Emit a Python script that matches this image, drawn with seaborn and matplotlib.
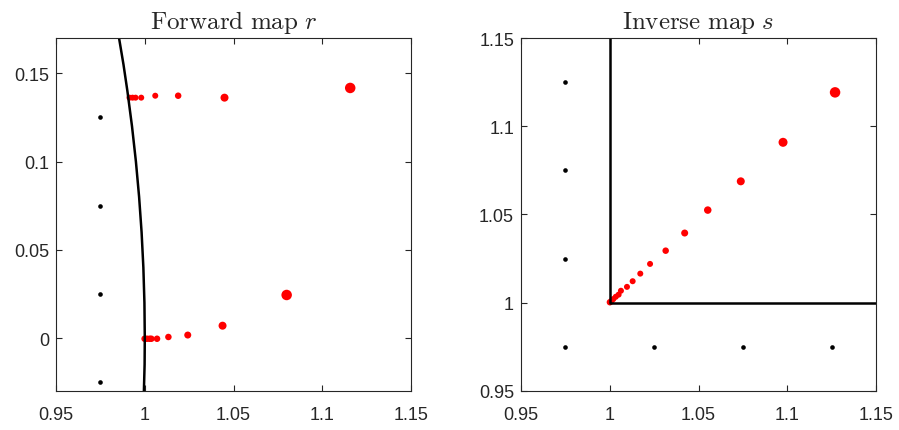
import seaborn as sns
import matplotlib.pyplot as plt

# forward map r: grid points and their images
fwd_grid_x = [0.975, 0.975, 0.975, 0.975]
fwd_grid_y = [0.125, 0.075, 0.025, -0.025]

fwd_top_x = [0.9914, 0.9931, 0.9948, 0.9980, 1.0059, 1.0188, 1.0449, 1.1157]
fwd_top_y = [0.1362, 0.1362, 0.1362, 0.1362, 0.1373, 0.1373, 0.1362, 0.1417]

fwd_bot_x = [0.9999, 1.0012, 1.0027, 1.0037, 1.0069, 1.0133, 1.0242, 1.0438, 1.0799]
fwd_bot_y = [-0.0004, -0.0004, -0.0004, -0.0004, -0.0004, 0.0006, 0.0017, 0.0070, 0.0244]

# boundary curve
curve_y = [-0.03, -0.015, 0.0, 0.02, 0.04, 0.06, 0.08, 0.10, 0.12, 0.14, 0.155, 0.17]
curve_x = [0.9995, 0.9999, 1.0, 0.9998, 0.9992, 0.9982, 0.9968, 0.9950, 0.9928,
           0.9902, 0.9880, 0.9855]

# inverse map s
inv_grid_x = [0.975, 0.975, 0.975, 0.975, 1.025, 1.075, 1.125]
inv_grid_y = [1.125, 1.075, 1.025, 0.975, 0.975, 0.975, 0.975]

inv_x = [1.1269, 1.0976, 1.0738, 1.0552, 1.0422, 1.0315, 1.0227, 1.0172,
         1.0129, 1.0097, 1.0063, 1.0050, 1.0034, 1.0020, 1.0011, 1.0001]
inv_y = [1.1192, 1.0909, 1.0688, 1.0525, 1.0395, 1.0295, 1.0220, 1.0165,
         1.0122, 1.0090, 1.0068, 1.0046, 1.0034, 1.0021, 1.0012, 1.0003]

corner_x = [1.0, 1.0, 1.15]
corner_y = [1.15, 1.0, 1.0]

# marker diameters in px
top_d = [6, 6, 6, 6, 6, 6.5, 8, 10.5]
bot_d = [6.5, 6.5, 6.5, 6.5, 6.5, 6.5, 7, 8, 10.5]
inv_d = [10.5, 9, 8, 7.5, 7, 6.5, 6, 6, 6, 6, 6, 6, 6, 6, 6, 6.5]


def area(d):
    return [(0.72 * v) ** 2 for v in d]


sns.set_style("ticks")
plt.rcParams["font.family"] = ["Liberation Sans", "DejaVu Sans"]
plt.rcParams["mathtext.fontset"] = "cm"

fig = plt.figure(figsize=(8.99, 4.31), dpi=100)
ax1 = fig.add_axes([0.0623, 0.0905, 0.395, 0.819])
ax2 = fig.add_axes([0.5795, 0.0905, 0.395, 0.819])

# left panel
sns.lineplot(x=curve_x, y=curve_y, sort=False, estimator=None, color="black",
             linewidth=1.8, ax=ax1)
sns.scatterplot(x=fwd_grid_x, y=fwd_grid_y, color="black", s=11, linewidth=0, ax=ax1)
sns.scatterplot(x=fwd_top_x, y=fwd_top_y, color="red", s=area(top_d), linewidth=0, ax=ax1)
sns.scatterplot(x=fwd_bot_x, y=fwd_bot_y, color="red", s=area(bot_d), linewidth=0, ax=ax1)
ax1.set_xlim(0.95, 1.15)
ax1.set_ylim(-0.03, 0.17)
ax1.set_xticks([0.95, 1.0, 1.05, 1.1, 1.15])
ax1.set_xticklabels(["0.95", "1", "1.05", "1.1", "1.15"])
ax1.set_yticks([0, 0.05, 0.1, 0.15])
ax1.set_yticklabels(["0", "0.05", "0.1", "0.15"])
ax1.set_title(r"$\mathrm{Forward\ map}\ r$", fontsize=18, pad=7)

# right panel
sns.lineplot(x=corner_x, y=corner_y, sort=False, estimator=None, color="black",
             linewidth=1.8, ax=ax2)
sns.scatterplot(x=inv_grid_x, y=inv_grid_y, color="black", s=11, linewidth=0, ax=ax2)
sns.scatterplot(x=inv_x, y=inv_y, color="red", s=area(inv_d), linewidth=0, ax=ax2)
ax2.set_xlim(0.95, 1.15)
ax2.set_ylim(0.95, 1.15)
ax2.set_xticks([0.95, 1.0, 1.05, 1.1, 1.15])
ax2.set_xticklabels(["0.95", "1", "1.05", "1.1", "1.15"])
ax2.set_yticks([0.95, 1.0, 1.05, 1.1, 1.15])
ax2.set_yticklabels(["0.95", "1", "1.05", "1.1", "1.15"])
ax2.set_title(r"$\mathrm{Inverse\ map}\ s$", fontsize=18, pad=7)

for ax in (ax1, ax2):
    for sp in ax.spines.values():
        sp.set_visible(True)
        sp.set_color("#262626")
        sp.set_linewidth(0.8)
    ax.tick_params(direction="in", top=True, right=True, length=4, width=0.8,
                   color="#262626", labelsize=13)
    ax.tick_params(axis="x", pad=11)
    ax.tick_params(axis="y", pad=5)

fig.savefig("out.png", dpi=100)
